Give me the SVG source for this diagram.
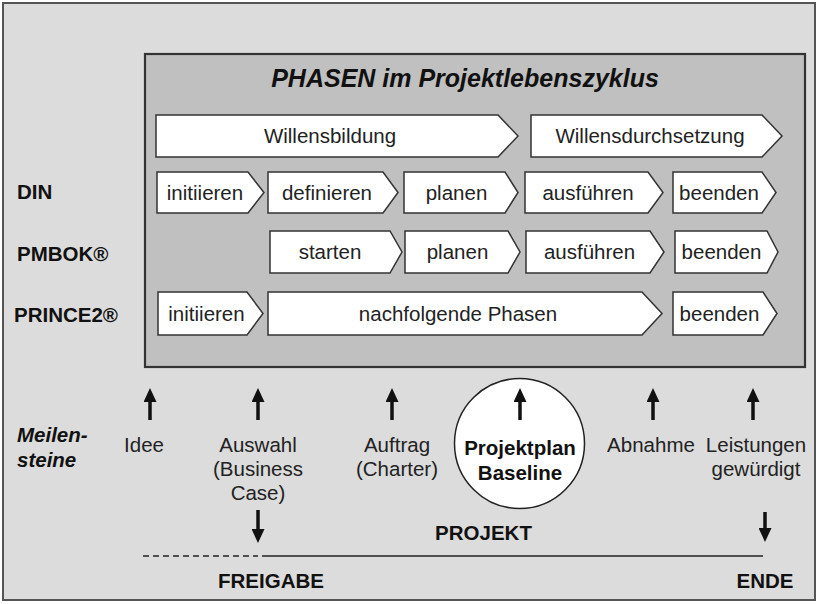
<svg xmlns="http://www.w3.org/2000/svg" width="819" height="604" viewBox="0 0 819 604">
<defs>
<marker id="ah" viewBox="0 0 14 13" markerUnits="userSpaceOnUse" markerWidth="14" markerHeight="13" refX="0" refY="6.5" orient="auto">
<path d="M0,0 L14,6.5 L0,13 z" fill="#111"/>
</marker>
<style>
text{font-family:"Liberation Sans",Arial,sans-serif;font-size:20.5px;fill:#222;text-anchor:middle}
.b{font-weight:bold;fill:#111}
.bi{font-weight:bold;font-style:italic;fill:#111}
.l{text-anchor:start}
.box{fill:#fff;stroke:#333;stroke-width:1.5;stroke-linejoin:miter}
.arr{stroke:#111;stroke-width:3.5;fill:none;marker-end:url(#ah)}
</style>
</defs>
<rect x="3" y="3" width="812" height="597" fill="#dcdcdc" stroke="#555" stroke-width="2"/>
<g id="phasen-frame">
<rect x="145" y="54" width="660" height="313" fill="#c0c0c0" stroke="#333" stroke-width="2.2"/>
<text class="bi" x="465" y="87" style="font-size:25px">PHASEN im Projektlebenszyklus</text>
</g>
<g id="willensbildung"><path class="box" d="M156,115 H498 L518,136 L498,157 H156 Z"/><text x="330" y="143">Willensbildung</text></g>
<g id="willensdurchsetzung"><path class="box" d="M531,115 H762 L782,136 L762,157 H531 Z"/><text x="650" y="143">Willensdurchsetzung</text></g>

<g id="label-din"><text class="b l" x="17" y="199">DIN</text></g>
<g id="din-initiieren"><path class="box" d="M157,172 H248 L264,192.5 L248,213 H157 Z"/><text x="205" y="199.5">initiieren</text></g>
<g id="din-definieren"><path class="box" d="M268,172 H383 L398,192.5 L383,213 H268 Z"/><text x="327" y="199.5">definieren</text></g>
<g id="din-planen"><path class="box" d="M404,172 H505 L518,192.5 L505,213 H404 Z"/><text x="456.5" y="199.5">planen</text></g>
<g id="din-ausfuehren"><path class="box" d="M525,172 H648 L663,192.5 L648,213 H525 Z"/><text x="588" y="199.5">ausführen</text></g>
<g id="din-beenden"><path class="box" d="M673,172 H762 L776,192.5 L762,213 H673 Z"/><text x="719" y="199.5">beenden</text></g>

<g id="label-pmbok"><text class="b l" x="17" y="261">PMBOK®</text></g>
<g id="pmbok-starten"><path class="box" d="M270,231 H390 L402,252 L390,273 H270 Z"/><text x="330" y="259">starten</text></g>
<g id="pmbok-planen"><path class="box" d="M405,231 H508 L520,252 L508,273 H405 Z"/><text x="457.5" y="259">planen</text></g>
<g id="pmbok-ausfuehren"><path class="box" d="M526,231 H650 L664,252 L650,273 H526 Z"/><text x="589.5" y="259">ausführen</text></g>
<g id="pmbok-beenden"><path class="box" d="M675,231 H767 L778,252 L767,273 H675 Z"/><text x="721.5" y="259">beenden</text></g>

<g id="label-prince2"><text class="b l" x="14" y="322">PRINCE2®</text></g>
<g id="prince2-initiieren"><path class="box" d="M158,292 H247 L263,313.5 L247,335 H158 Z"/><text x="206.5" y="321">initiieren</text></g>
<g id="prince2-nachfolgende"><path class="box" d="M268,292 H642 L662,313.5 L642,335 H268 Z"/><text x="458" y="321">nachfolgende Phasen</text></g>
<g id="prince2-beenden"><path class="box" d="M673,292 H763 L777,313.5 L763,335 H673 Z"/><text x="719.5" y="321">beenden</text></g>

<g id="label-meilensteine"><text class="bi l" x="17" y="442">Meilen-</text><text class="bi l" x="17" y="467">steine</text></g>
<g id="ms-idee"><text x="144" y="452">Idee</text></g>
<g id="ms-auswahl"><text x="258" y="452">Auswahl</text><text x="258" y="476">(Business</text><text x="258" y="500">Case)</text></g>
<g id="ms-auftrag"><text x="397" y="452">Auftrag</text><text x="397" y="476">(Charter)</text></g>
<g id="ms-projektplan"><circle cx="519.5" cy="443.5" r="65" fill="#fff" stroke="#222" stroke-width="1.5"/><text class="b" x="520" y="455">Projektplan</text><text class="b" x="520" y="480">Baseline</text></g>
<g id="ms-abnahme"><text x="651" y="452">Abnahme</text></g>
<g id="ms-leistungen"><text x="756" y="452">Leistungen</text><text x="756" y="476">gewürdigt</text></g>
<g id="label-projekt"><text class="b" x="483.5" y="540">PROJEKT</text></g>
<g id="label-freigabe"><text class="b" x="271" y="588">FREIGABE</text></g>
<g id="label-ende"><text class="b" x="765" y="588">ENDE</text></g>

<g id="connectors">
<line class="arr" x1="150" y1="420" x2="150" y2="402"/>
<line class="arr" x1="258" y1="420" x2="258" y2="402"/>
<line class="arr" x1="392" y1="420" x2="392" y2="402"/>
<line class="arr" x1="520" y1="420" x2="520" y2="402"/>
<line class="arr" x1="653" y1="420" x2="653" y2="402"/>
<line class="arr" x1="753" y1="420" x2="753" y2="402"/>
<line class="arr" x1="258" y1="510" x2="258" y2="529"/>
<line class="arr" x1="765" y1="512" x2="765" y2="528"/>
<line x1="143" y1="556" x2="258" y2="556" stroke="#222" stroke-width="1.5" stroke-dasharray="6 4"/>
<line x1="262" y1="556" x2="763" y2="556" stroke="#222" stroke-width="1.5"/>
</g>
</svg>
